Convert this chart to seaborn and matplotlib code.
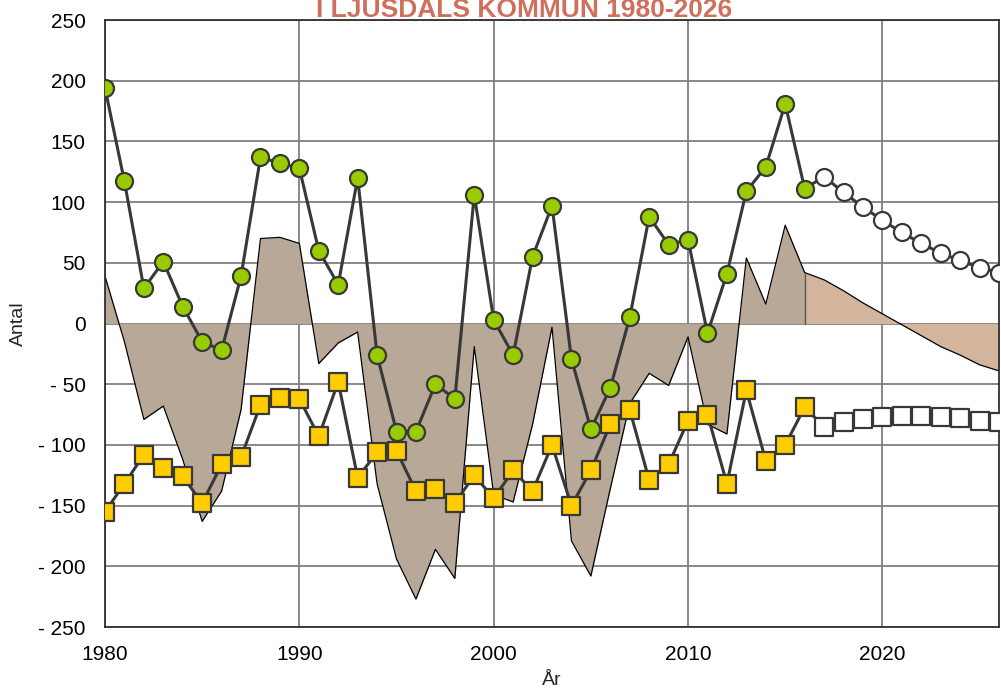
import numpy as np
import pandas as pd
import matplotlib
matplotlib.use("Agg")
import matplotlib.pyplot as plt
import seaborn as sns

# Utfall 1980-2016
years_hist = list(range(1980, 2017))
migration_hist = [194, 117, 29, 51, 14, -15, -22, 39, 137, 132,
                  128, 60, 32, 120, -26, -89, -89, -50, -62, 106,
                  3, -26, 55, 97, -29, -87, -53, 5, 88, 65,
                  69, -8, 41, 109, 129, 181, 111]
births_hist = [-155, -132, -108, -119, -126, -148, -116, -110, -67, -61,
               -62, -93, -48, -127, -106, -105, -138, -136, -148, -125,
               -144, -121, -138, -100, -150, -121, -83, -71, -129, -116,
               -80, -75, -132, -55, -113, -100, -69]

# Prognos 2017-2026
years_proj = list(range(2017, 2027))
migration_proj = [121, 108, 96, 85, 75, 66, 58, 52, 46, 42]
births_proj = [-85, -81, -79, -77, -76, -76, -77, -78, -80, -81]

y_ticks = [250, 200, 150, 100, 50, 0, -50, -100, -150, -200, -250]
y_labels = ["250", "200", "150", "100", "50", "0", "- 50", "- 100", "- 150", "- 200", "- 250"]
x_ticks = [1980, 1990, 2000, 2010, 2020]

hist = pd.DataFrame({"year": years_hist, "mig": migration_hist, "birth": births_hist})
proj = pd.DataFrame({"year": years_proj, "mig": migration_proj, "birth": births_proj})
hist["total"] = hist["mig"] + hist["birth"]
proj["total"] = proj["mig"] + proj["birth"]
# prognosen ritas från sista utfallsåret
proj_line = pd.concat([hist.tail(1), proj], ignore_index=True)

sns.set_style("white")
plt.rcParams["font.family"] = ["Liberation Sans", "DejaVu Sans"]

fig = plt.figure(figsize=(10.01, 6.93), dpi=100)
ax = fig.add_axes([0.1049, 0.0952, 0.8931, 0.8759])

line_col = "#383838"
edge_col = "#383838"

# ytor: total befolkningsförändring
ax.fill_between(hist["year"], hist["total"], 0, color="#b8a898", lw=0, zorder=2)
ax.plot(hist["year"], hist["total"], color="black", lw=0.9, zorder=2.1)
ax.fill_between(proj_line["year"], proj_line["total"], 0, color="#d2b59c", lw=0, zorder=2)
ax.plot(proj_line["year"], proj_line["total"], color="black", lw=0.9, zorder=2.1)
ax.plot([2016, 2016], [0, hist["total"].iloc[-1]], color="#555555", lw=1.0, zorder=2.1)

# prognoslinjer
sns.lineplot(data=proj_line, x="year", y="mig", ax=ax, color=line_col, lw=2.2, zorder=3)
sns.lineplot(data=proj_line, x="year", y="birth", ax=ax, color=line_col, lw=2.2, zorder=3)
sns.scatterplot(data=proj, x="year", y="mig", ax=ax, marker="o", s=150,
                color="white", edgecolor=edge_col, linewidth=1.6, zorder=4)
sns.scatterplot(data=proj, x="year", y="birth", ax=ax, marker="s", s=160,
                color="white", edgecolor=edge_col, linewidth=1.6, zorder=4)

# utfall
sns.lineplot(data=hist, x="year", y="mig", ax=ax, color=line_col, lw=2.2, zorder=5)
sns.lineplot(data=hist, x="year", y="birth", ax=ax, color=line_col, lw=2.2, zorder=5)
sns.scatterplot(data=hist, x="year", y="mig", ax=ax, marker="o", s=150,
                color="#99cc00", edgecolor=edge_col, linewidth=1.6, zorder=6)
sns.scatterplot(data=hist, x="year", y="birth", ax=ax, marker="s", s=160,
                color="#ffcc00", edgecolor=edge_col, linewidth=1.6, zorder=6)

ax.set_xlim(1980, 2026)
ax.set_ylim(-250, 250)
ax.set_xticks(x_ticks)
ax.set_xticklabels([str(x) for x in x_ticks])
ax.set_yticks(y_ticks)
ax.set_yticklabels(y_labels)
ax.tick_params(axis="y", labelsize=15, colors="black", length=0, pad=14)
ax.tick_params(axis="x", labelsize=15, colors="black", length=0, pad=13)
ax.grid(True, color="#7f7f7f", lw=1.3, zorder=1)
ax.set_axisbelow(True)
for sp in ax.spines.values():
    sp.set_color("#303030")
    sp.set_linewidth(1.3)

ax.set_xlabel("År", fontsize=14, va="top")
ax.xaxis.set_label_coords(0.5, -0.074)
ax.set_ylabel("Antal", fontsize=14, va="center")
ax.yaxis.set_label_coords(-0.097, 0.5)

fig.text(0.524, 1 - 17 / 693, "I LJUSDALS KOMMUN 1980-2026", ha="center", va="baseline",
         fontsize=19, fontweight="bold", color="#d0705c")

fig.savefig("out.png", dpi=100)
